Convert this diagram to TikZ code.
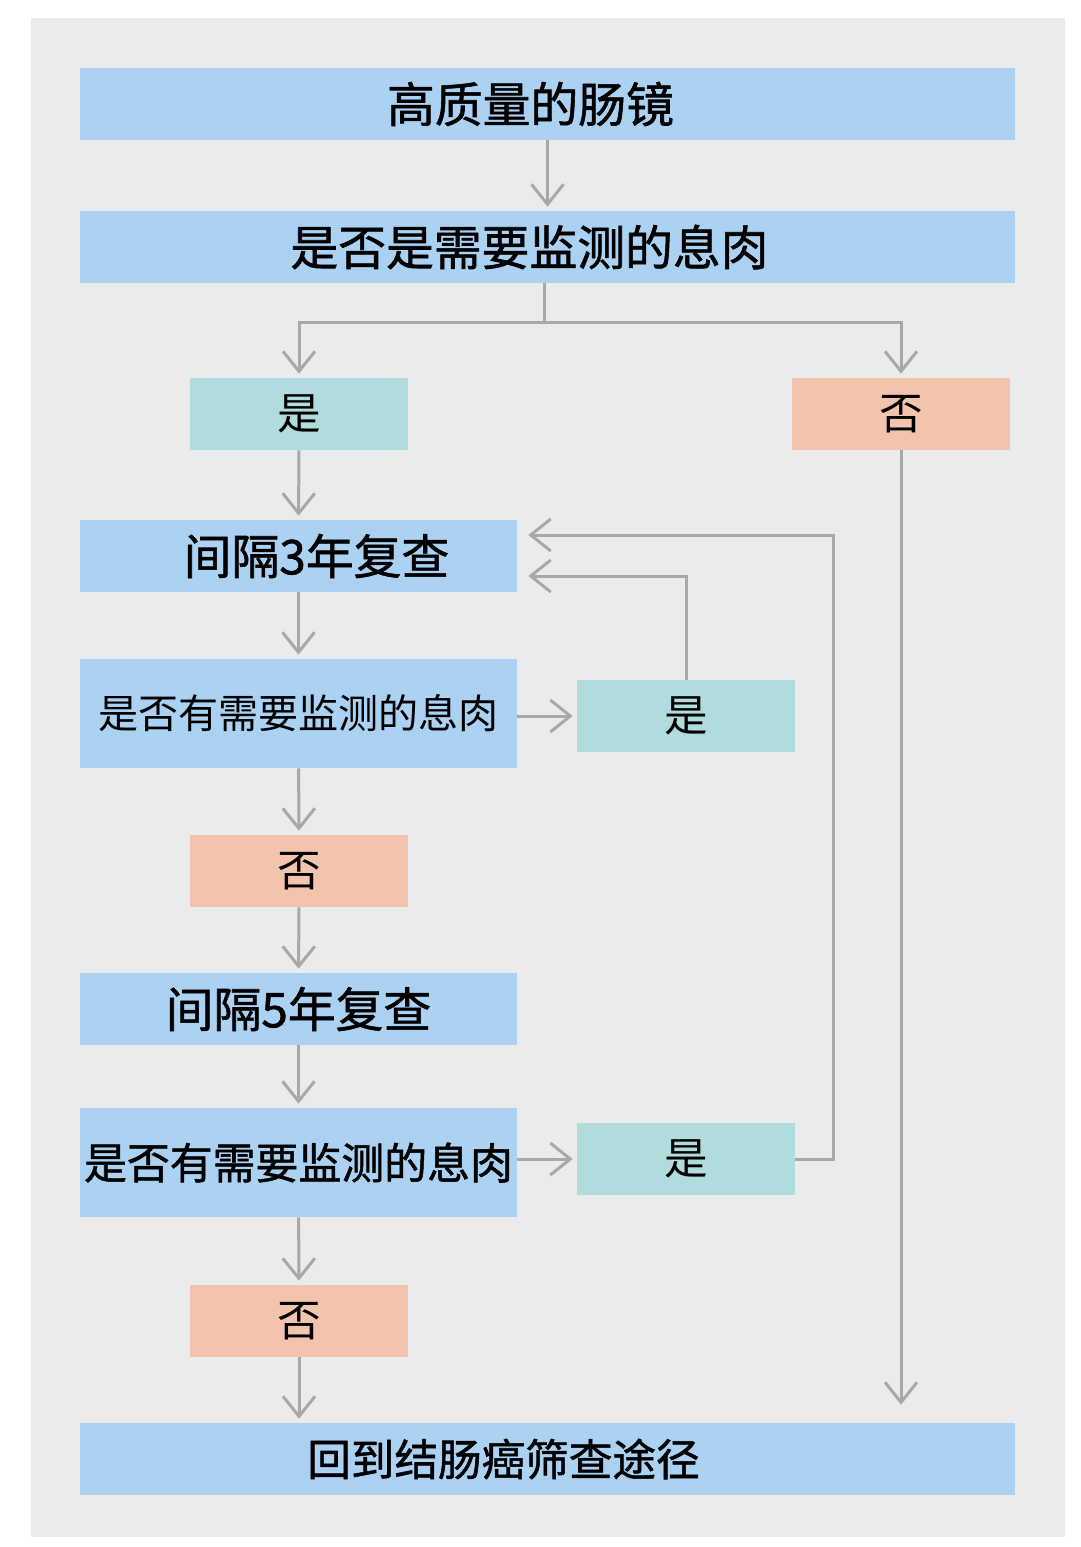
\documentclass[tikz,border=0pt]{standalone}
\usepackage{fontspec}
\newfontfamily\cjk{Noto Sans CJK SC}
\newfontfamily\cjkheavy[FakeBold=1.2]{Noto Sans CJK SC}
\usetikzlibrary{arrows.meta}
\definecolor{panelgray}{HTML}{EBEBEB}
\definecolor{boxblue}{HTML}{ABD1F3}
\definecolor{boxteal}{HTML}{B0DCDD}
\definecolor{boxsalmon}{HTML}{F2C4AE}
\definecolor{linegray}{HTML}{A8A8A8}
\tikzset{
  box/.style={fill=boxblue, inner sep=0pt, text=black, font={\cjkheavy\fontsize{34}{40}\selectfont}},
  widebox/.style={box, minimum width=23.375cm, minimum height=1.8cm},
  midbox/.style={box, minimum width=10.925cm, minimum height=1.8cm},
  tallbox/.style={box, minimum width=10.925cm, minimum height=2.725cm},
  yesbox/.style={box, fill=boxteal, minimum width=5.45cm, minimum height=1.8cm, font={\cjk\fontsize{31}{36}\selectfont}},
  nobox/.style={yesbox, fill=boxsalmon},
  nudge/.style={execute at begin node={\hspace*{#1}}},
  link/.style={draw=linegray, line width=0.075cm},
  flow/.style={link, -{Straight Barb[length=0.5cm, width=0.8cm, line width=0.075cm]}, shorten >=0.1cm},
}
\begin{document}
\begin{tikzpicture}[x=0.025cm, y=-0.025cm]
  \useasboundingbox (0,0) rectangle (1080,1547);
  \fill[panelgray] (31,18) rectangle (1065,1537);

  \node[widebox, nudge=-0.85cm] (top) at (547.5,104) {\raisebox{-0.2cm}{高质量的肠镜}};
  \node[widebox, nudge=-0.9cm] (q1) at (547.5,247) {是否是需要监测的息肉};
  \node[yesbox] (yes1) at (299,414) {是};
  \node[nobox] (no1) at (901,414) {否};
  \node[midbox, nudge=0.9cm] (iv3) at (298.5,556) {间隔3年复查};
  \node[tallbox, font={\cjk\fontsize{28.5}{34}\selectfont}] (chk3) at (298.5,713.5) {是否有需要监测的息肉};
  \node[yesbox] (yes2) at (686,716) {是};
  \node[nobox] (no2) at (299,871) {否};
  \node[midbox] (iv5) at (298.5,1009) {间隔5年复查};
  \node[tallbox, font={\cjkheavy\fontsize{30.5}{36}\selectfont}] (chk5) at (298.5,1162.5) {是否有需要监测的息肉};
  \node[yesbox] (yes3) at (686,1159) {\raisebox{0.1cm}{是}};
  \node[nobox] (no3) at (299,1321) {否};
  \node[widebox, nudge=-2.2cm, font={\cjkheavy\fontsize{31}{36}\selectfont}] (back) at (547.5,1459) {回到结肠癌筛查途径};

  \coordinate (split) at (544,322);

  \draw[flow] (top) -- (q1);
  \draw[link] (q1.south -| split) -- (split);
  \draw[flow] (split) -| (yes1);
  \draw[flow] (split) -| (no1);
  \draw[flow, shorten >=0.45cm] (no1) -- (no1 |- back.north);
  \draw[flow] (yes1) -- (iv3);
  \draw[flow] (iv3) -- (chk3);
  \draw[flow] (chk3.east |- yes2) -- (yes2);
  \draw[flow, shorten >=0.275cm] (yes2) |- ([yshift=-0.5cm]iv3.east);
  \draw[flow] (chk3) -- (no2);
  \draw[flow] (no2) -- (iv5);
  \draw[flow] (iv5) -- (chk5);
  \draw[flow] (chk5.east |- yes3) -- (yes3);
  \draw[flow, shorten >=0.275cm] (yes3.east) -- ++(38,0) |- ([yshift=0.525cm]iv3.east);
  \draw[flow] (chk5) -- (no3);
  \draw[flow] (no3) -- (no3 |- back.north);
\end{tikzpicture}
\end{document}
